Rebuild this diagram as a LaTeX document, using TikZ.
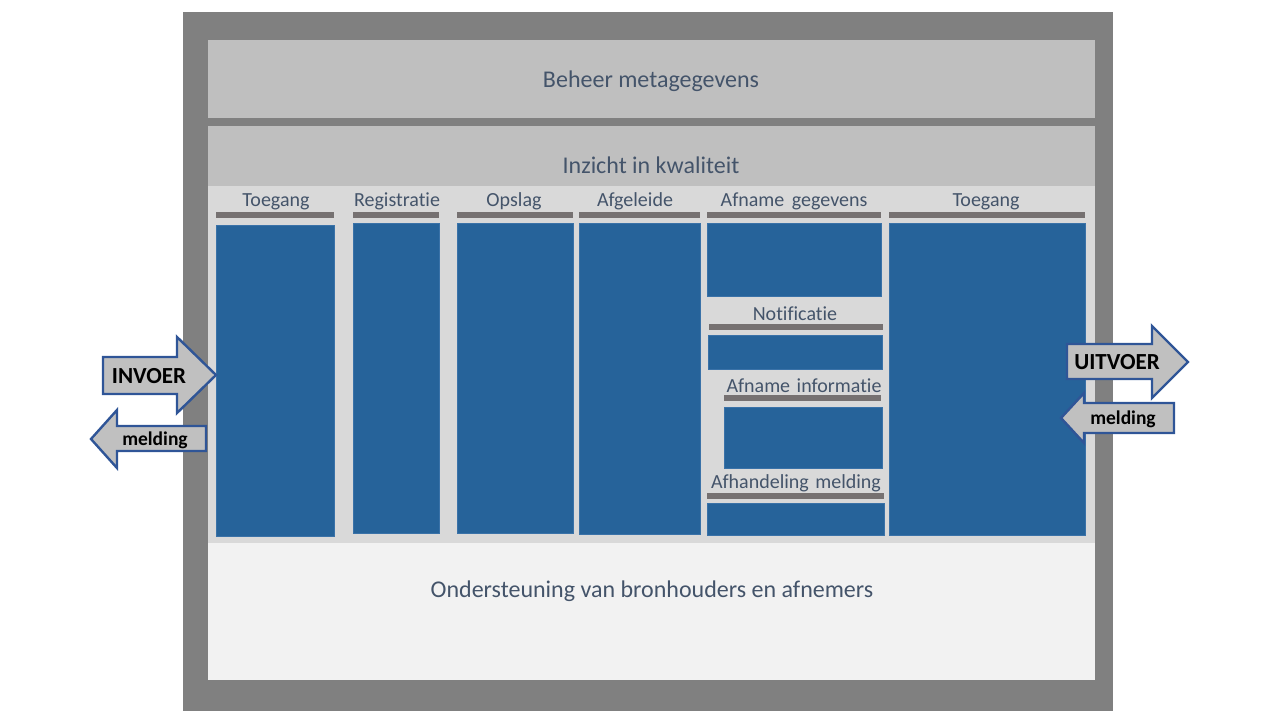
\documentclass[tikz,border=0pt]{standalone}
\usepackage{fontspec}
\setmainfont{Carlito}[RawFeature={-liga}]
\definecolor{outerc}{HTML}{808080}
\definecolor{boxc}{HTML}{BFBFBF}
\definecolor{panelc}{HTML}{D9D9D9}
\definecolor{lowc}{HTML}{F2F2F2}
\definecolor{textc}{HTML}{44546A}
\definecolor{barc}{HTML}{767171}
\definecolor{bluec}{HTML}{26639A}
\definecolor{blueline}{HTML}{3A72A8}
\definecolor{arrowline}{HTML}{2F5597}
\definecolor{arrowfill}{HTML}{C0C0C0}
\tikzset{
  title/.style={text=textc, font=\fontsize{24}{28}\selectfont, anchor=base, inner sep=0pt},
  lab/.style={text=textc, font=\fontsize{20}{24}\selectfont, anchor=base, inner sep=0pt},
  bar/.style={fill=barc},
  col/.style={fill=bluec, draw=blueline, line width=0.8pt},
  barrow/.style={fill=arrowfill, draw=arrowline, line width=2.4pt, line join=miter},
  bigtxt/.style={text=black, font=\bfseries\fontsize{23}{27}\selectfont, anchor=base, inner sep=0pt},
  smalltxt/.style={text=black, font=\bfseries\fontsize{19.5}{23}\selectfont, anchor=base, inner sep=0pt}
}
\begin{document}
\begin{tikzpicture}[x=1pt,y=-1pt]
\useasboundingbox (0,0) rectangle (1280,720);
% frame and bands
\fill[outerc] (183,12) rectangle (1113,711);
\fill[boxc] (208,40) rectangle (1095,118);
\fill[boxc] (208,126) rectangle (1095,186);
\fill[panelc] (208,186) rectangle (1095,543);
\fill[lowc] (208,543) rectangle (1095,680);
\node[title] (beheer) at (651,87) {Beheer metagegevens};
\node[title] (inzicht) at (651,173) {Inzicht in kwaliteit};
\node[title] (onder) at (652,597) {Ondersteuning van bronhouders en afnemers};
% column 1
\node[lab] (l1) at (276,206) {Toegang};
\fill[bar] (216,212) rectangle (334,218);
\draw[col] (216,225) rectangle (334,536);
% column 2
\node[lab] (l2) at (397,206) {Registratie};
\fill[bar] (353,212) rectangle (439,218);
\draw[col] (353,223) rectangle (439,533);
% column 3
\node[lab] (l3) at (514,206) {Opslag};
\fill[bar] (457,212) rectangle (573,218);
\draw[col] (457,223) rectangle (573,533);
% column 4
\node[lab] (l4) at (635,206) {Afgeleide};
\fill[bar] (579,212) rectangle (700,218);
\draw[col] (579,223) rectangle (700,534);
% column 5
\node[lab] (l5) at (794,206) {Afname\hspace{3pt} gegevens};
\fill[bar] (707,212) rectangle (881,218);
\draw[col] (707,223) rectangle (881,296);
\node[lab] (l5b) at (795,320) {Notificatie};
\fill[bar] (709,324) rectangle (883,330);
\draw[col] (708,335) rectangle (882,369);
\node[lab] (l5c) at (804,392) {Afname\hspace{2pt} informatie};
\fill[bar] (724,395) rectangle (881,401);
\draw[col] (724,407) rectangle (882,468);
\node[lab] (l5d) at (796,488) {Afhandeling\hspace{2pt} melding};
\fill[bar] (707,493) rectangle (884,499);
\draw[col] (707,503) rectangle (884,535);
% column 6
\node[lab] (l6) at (986,206) {Toegang};
\fill[bar] (889,212) rectangle (1085,218);
\draw[col] (889,223) rectangle (1085,535);
% arrows left
\draw[barrow] (103,357) -- (177,357) -- (177,337) -- (216,375) -- (177,413) -- (177,394) -- (103,394) -- cycle;
\node[bigtxt] (invoer) at (149,383) {INVOER};
\draw[barrow] (206,426) -- (117,426) -- (117,410) -- (91,439) -- (117,468) -- (117,451) -- (206,451) -- cycle;
\node[smalltxt] (meldl) at (155,445) {melding};
% arrows right
\draw[barrow] (1067,344) -- (1152,344) -- (1152,326) -- (1188,362) -- (1152,398) -- (1152,379) -- (1067,379) -- cycle;
\node[bigtxt] (uitvoer) at (1117,369) {UITVOER};
\draw[barrow] (1174,403) -- (1084,403) -- (1084,393) -- (1061,418) -- (1084,443) -- (1084,433) -- (1174,433) -- cycle;
\node[smalltxt] (meldr) at (1123,424) {melding};
\end{tikzpicture}
\end{document}
